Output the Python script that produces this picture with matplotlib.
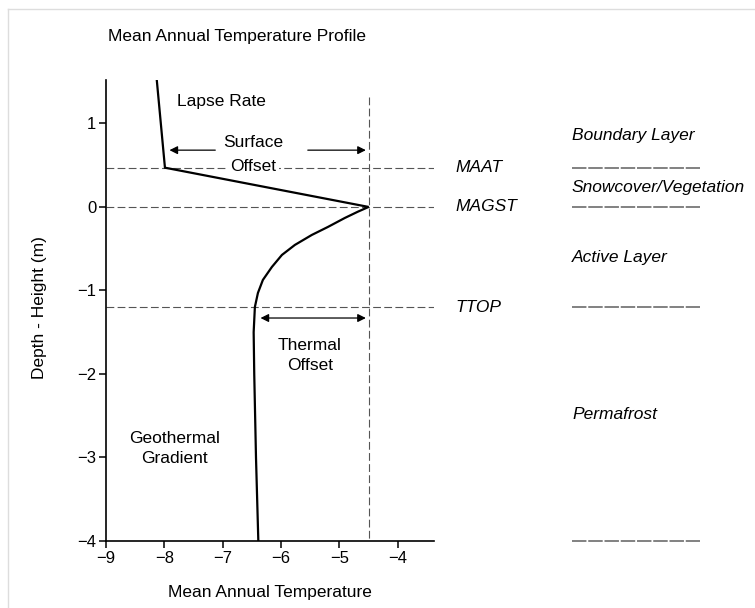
import matplotlib.pyplot as plt
import matplotlib.transforms as mtransforms
from matplotlib.lines import Line2D

plt.rcParams['font.family'] = ['Liberation Sans', 'DejaVu Sans']

# temperature profile (x = temperature, y = depth/height)
temp = [-8.13, -7.99, -4.5, -4.685, -4.908, -5.199, -5.473, -5.764, -5.986,
        -6.158, -6.312, -6.397, -6.449, -6.47, -6.46, -6.43, -6.39]
depth = [1.52, 0.47, 0.0, -0.057, -0.132, -0.240, -0.335, -0.455, -0.575,
         -0.719, -0.874, -1.03, -1.198, -1.5, -2.0, -3.0, -4.0]

levels = [0.47, 0.0, -1.2]
level_names = ['MAAT', 'MAGST', 'TTOP']
magst_x = -4.5

zones = ['Boundary Layer', 'Snowcover/Vegetation', 'Active Layer', 'Permafrost']
zone_y = [0.86, 0.23, -0.6, -2.48]
zone_lines = [0.47, 0.0, -1.2, -4.0]

fig = plt.figure(figsize=(7.55, 6.08), dpi=100)
ax = fig.add_axes([106/755, 67/608, 328/755, 461/608])

for lv in levels:
    ax.axhline(lv, color='#555555', lw=0.8, dashes=(7, 3), zorder=1)
ax.plot([magst_x, magst_x], [1.32, -4], color='#555555', lw=0.8, dashes=(7, 3), zorder=1)

fs = 12.5
ax.text(-6.48, 0.77, 'Surface', ha='center', va='center', fontsize=fs, zorder=2,
        bbox=dict(fc='white', ec='none', pad=2))
ax.text(-6.48, 0.48, 'Offset', ha='center', va='center', fontsize=fs, zorder=2,
        bbox=dict(fc='white', ec='none', pad=2))

ax.plot(temp, depth, color='black', lw=1.6, solid_joinstyle='miter', zorder=3)

ax.set_xlim(-9, -3.38)
ax.set_ylim(-4, 1.52)
ax.set_xticks([-9, -8, -7, -6, -5, -4])
ax.set_yticks([1, 0, -1, -2, -3, -4])
for s in ['top', 'right']:
    ax.spines[s].set_visible(False)
for s in ['left', 'bottom']:
    ax.spines[s].set_linewidth(1.2)
ax.tick_params(direction='out', length=5, width=1.1, labelsize=12, pad=2)

# arrows
arr = dict(arrowstyle='-|>', color='black', lw=0.9, mutation_scale=12)
ax.annotate('', xy=(-7.96, 0.68), xytext=(-7.08, 0.68), arrowprops=arr)
ax.annotate('', xy=(magst_x, 0.68), xytext=(-5.59, 0.68), arrowprops=arr)
ax.annotate('', xy=(-6.40, -1.33), xytext=(magst_x, -1.33),
            arrowprops=dict(arrowstyle='<|-|>', color='black', lw=0.9, mutation_scale=12))

ax.text(-5.51, -1.78, 'Thermal\nOffset', ha='center', va='center', fontsize=fs, linespacing=1.4)
ax.text(-7.78, 1.26, 'Lapse Rate', ha='left', va='center', fontsize=fs)
ax.text(-7.82, -2.89, 'Geothermal\nGradient', ha='center', va='center', fontsize=fs, linespacing=1.4)

trans = mtransforms.blended_transform_factory(fig.transFigure, ax.transData)
for lv, name in zip(levels, level_names):
    ax.text(455/755, lv, name, transform=trans, ha='left', va='center',
            fontsize=fs, style='italic', clip_on=False)
for zy, name in zip(zone_y, zones):
    ax.text(572/755, zy, name, transform=trans, ha='left', va='center',
            fontsize=fs, style='italic', clip_on=False)
for zl in zone_lines:
    ax.plot([572/755, 700/755], [zl, zl], transform=trans, color='#777777',
            lw=1.3, dashes=(8, 1), clip_on=False)

fig.text(108/755, 1 - 36/608, 'Mean Annual Temperature Profile', ha='left', va='center', fontsize=fs)
fig.text(270/755, 1 - 593/608, 'Mean Annual Temperature', ha='center', va='center', fontsize=fs)
fig.text(40/755, 1 - 308/608, 'Depth - Height (m)', ha='center', va='center', rotation=90, fontsize=fs)

# light frame around figure
fig.add_artist(Line2D([8/755, 8/755], [0, 1 - 9/608], color='#dddddd', lw=1))
fig.add_artist(Line2D([8/755, 1], [1 - 9/608, 1 - 9/608], color='#dddddd', lw=1))

fig.savefig('out.png', dpi=100)
